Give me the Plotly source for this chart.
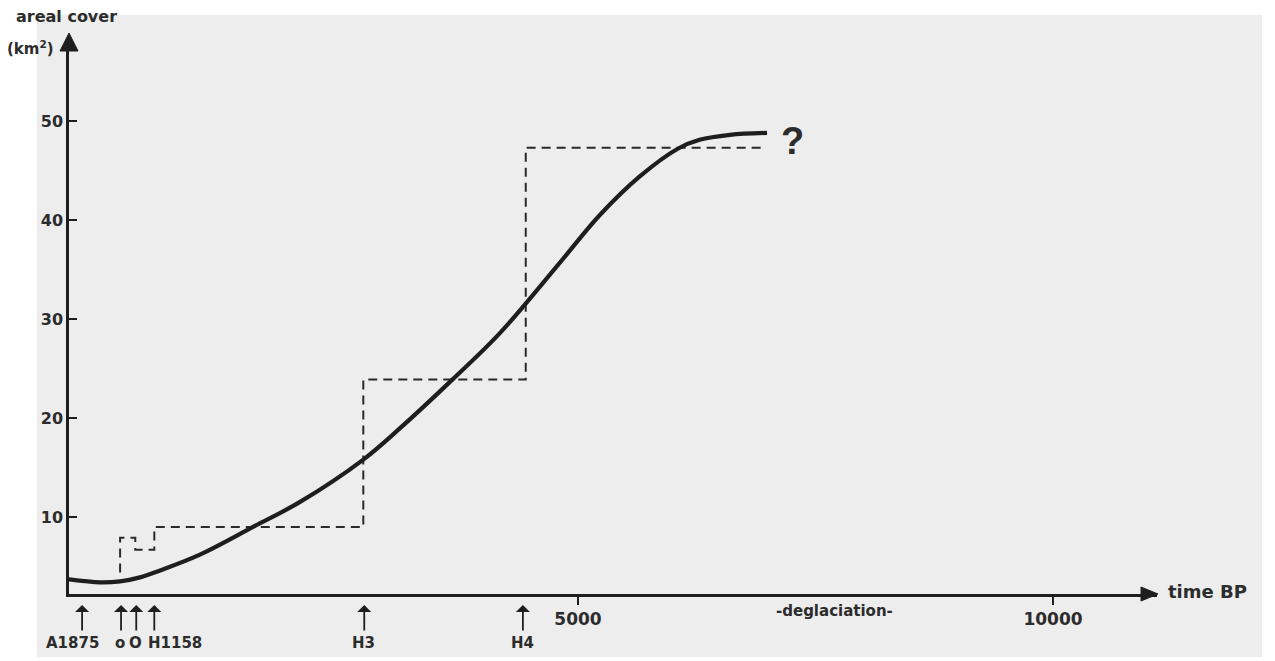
import plotly.graph_objects as go

# ---------------- data ----------------
curve_years = [-360, -30, 180, 390, 600, 1020, 1580, 2070, 2740, 3130, 3680,
               4180, 4810, 5230, 5650, 6050, 6280, 6600, 6990]
curve_area = [3.7, 3.4, 3.5, 3.9, 4.6, 6.2, 9.0, 11.5, 15.8, 19.0, 23.9,
              28.6, 35.7, 40.5, 44.4, 47.2, 48.1, 48.6, 48.8]

step_years = [180, 180, 340, 540, 2740, 4450, 6970]
step_area = [4.4, 7.9, 6.7, 9.0, 23.9, 47.3, 47.3]

event_years = [-220, 190, 350, 540, 2750, 4420]
label_years = [-326, 179, 337, 758, 2747, 4411]
event_labels = ["A1875", "o", "O", "H1158", "H3", "H4"]

y_ticks = [10, 20, 30, 40, 50]
y_tick_labels = ["10", "20", "30", "40", "50"]
x_ticks = [5000, 10000]
x_tick_labels = ["5000", "10000"]

# ---------------- layout geometry ----------------
W, H = 1275, 661
L, R, T, B = 69, 1157, 45, 594          # plot area in pixels
PW, PH = R - L, B - T


def px_x(px):
    return (px - L) / PW


def px_y(py):
    return (B - py) / PH


INK = "#1e1e1e"
TXT = "#2c2c2c"
FONT = "DejaVu Sans"

fig = go.Figure()

fig.add_trace(go.Scatter(
    x=step_years, y=step_area, mode="lines", line_shape="hv",
    line=dict(color="#2a2a2a", width=2, dash="9px,6px"),
    hoverinfo="skip", showlegend=False))

fig.add_trace(go.Scatter(
    x=curve_years, y=curve_area, mode="lines", line_shape="spline",
    line=dict(color=INK, width=4.2, smoothing=1.0),
    hoverinfo="skip", showlegend=False))

shapes = [
    # scanned-paper gray background
    dict(type="rect", xref="paper", yref="paper", layer="below",
         x0=px_x(37), x1=px_x(1262), y0=px_y(657), y1=px_y(15),
         fillcolor="#ededed", line=dict(width=0)),
    # y-axis arrow head
    dict(type="path", xref="paper", yref="paper",
         path=f"M {px_x(60)} {px_y(51)} L {px_x(69)} {px_y(33)} L {px_x(78)} {px_y(51)} Z",
         fillcolor=INK, line=dict(color=INK, width=1)),
    # x-axis arrow head
    dict(type="path", xref="paper", yref="paper",
         path=f"M {px_x(1141)} {px_y(587)} L {px_x(1158)} {px_y(594)} L {px_x(1141)} {px_y(601)} Z",
         fillcolor=INK, line=dict(color=INK, width=1)),
]

annotations = []
for xv in event_years:
    annotations.append(dict(
        x=xv, y=0, xref="x", yref="paper", yshift=-11,
        text="", showarrow=True, ax=0, ay=27,
        arrowhead=1, arrowsize=1.3, arrowwidth=1.8, arrowcolor=INK))
for xv, lab in zip(label_years, event_labels):
    annotations.append(dict(
        x=xv, y=px_y(643), xref="x", yref="paper", text=f"<b>{lab}</b>",
        showarrow=False, xanchor="center", yanchor="middle",
        font=dict(family=FONT, size=15, color=TXT)))

annotations += [
    dict(x=px_x(14), y=px_y(16), xref="paper", yref="paper",
         text="<b>areal cover</b>", showarrow=False, xanchor="left", yanchor="middle",
         font=dict(family=FONT, size=16, color=TXT)),
    dict(x=px_x(5), y=px_y(48), xref="paper", yref="paper",
         text="<b>(km<sup>2</sup>)</b>", showarrow=False, xanchor="left", yanchor="middle",
         font=dict(family=FONT, size=15, color=TXT)),
    dict(x=px_x(1166), y=px_y(591), xref="paper", yref="paper",
         text="<b>time BP</b>", showarrow=False, xanchor="left", yanchor="middle",
         font=dict(family=FONT, size=18, color=TXT)),
    dict(x=px_x(834), y=px_y(611), xref="paper", yref="paper",
         text="<b>-deglaciation-</b>", showarrow=False, xanchor="center", yanchor="middle",
         font=dict(family=FONT, size=15, color=TXT)),
    dict(x=px_x(792), y=px_y(141), xref="paper", yref="paper",
         text="<b>?</b>", showarrow=False, xanchor="center", yanchor="middle",
         font=dict(family="Liberation Sans", size=38, color=TXT)),
]

x0_val = (L - 103) / 0.095
x1_val = (R - 103) / 0.095
y0_val = (616 - B) / 9.9
y1_val = (616 - T) / 9.9

fig.update_layout(
    width=W, height=H, autosize=False,
    margin=dict(l=L, r=W - R, t=T, b=H - B, pad=0),
    paper_bgcolor="white", plot_bgcolor="rgba(0,0,0,0)",
    shapes=shapes, annotations=annotations, showlegend=False,
    xaxis=dict(range=[x0_val, x1_val], showgrid=False, zeroline=False,
               showline=True, linecolor=INK, linewidth=2.5,
               tickvals=x_ticks, ticktext=[f"<b>{t}</b>" for t in x_tick_labels],
               ticks="outside", ticklen=8, tickwidth=2, tickcolor=INK,
               tickfont=dict(family=FONT, size=17, color=TXT),
               fixedrange=True),
    yaxis=dict(range=[y0_val, y1_val], showgrid=False, zeroline=False,
               showline=True, linecolor=INK, linewidth=2.5,
               tickvals=y_ticks, ticktext=[f"<b>{t}</b>" for t in y_tick_labels],
               ticks="inside", ticklen=8, tickwidth=2, tickcolor=INK,
               tickfont=dict(family=FONT, size=16, color=TXT),
               fixedrange=True),
)

fig.write_html("out.html", config={"displayModeBar": False},
               post_script="document.body.style.margin='0';")
